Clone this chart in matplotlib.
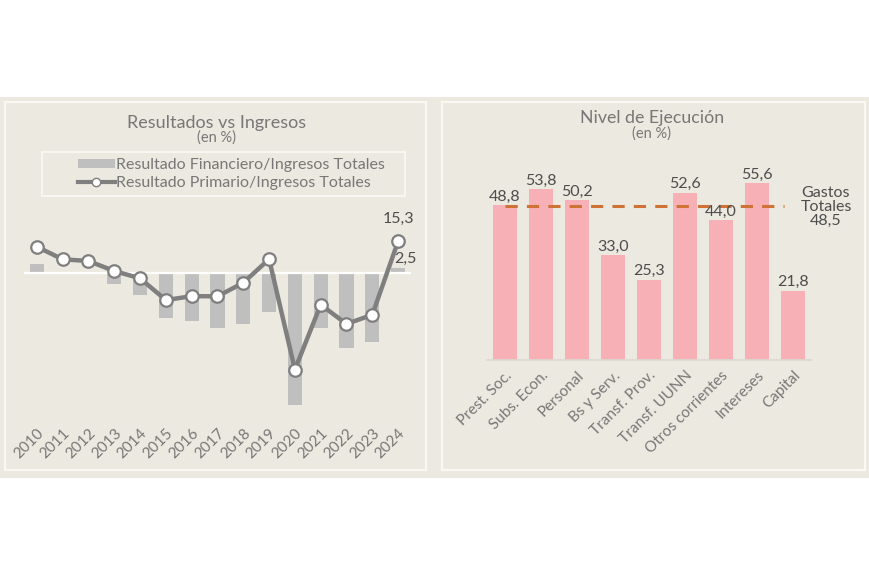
import matplotlib.pyplot as plt
from matplotlib.patches import Rectangle
from matplotlib.lines import Line2D
from matplotlib.patches import Patch

# Datos - panel izquierdo
years = ['2010', '2011', '2012', '2013', '2014', '2015', '2016', '2017',
         '2018', '2019', '2020', '2021', '2022', '2023', '2024']
res_financiero = [4.3, 0, 0, -5.1, -10.5, -21.2, -22.8, -26.0,
                  -24.0, -18.7, -63.0, -26.0, -35.7, -33.0, 2.5]
res_primario = [12.7, 6.7, 5.9, 1.1, -2.4, -12.8, -10.9, -11.0,
                -4.5, 6.8, -46.0, -15.0, -24.2, -19.8, 15.3]

# Datos - panel derecho
categorias = ['Prest. Soc.', 'Subs. Econ.', 'Personal', 'Bs y Serv.', 'Transf. Prov.',
              'Transf. UUNN', 'Otros corrientes', 'Intereses', 'Capital']
ejecucion = [48.8, 53.8, 50.2, 33.0, 25.3, 52.6, 44.0, 55.6, 21.8]
gastos_totales = 48.5

W, H = 870, 580
BEIGE = '#ECE9E0'
GRIS_TXT = '#777777'
OSCURO = '#4d4d4d'

plt.rcParams['font.family'] = ['Lato', 'DejaVu Sans']

fig = plt.figure(figsize=(W / 100, H / 100), dpi=100)
fig.patch.set_facecolor('white')


def fx(px):
    return px / W


def fy(py):
    return 1 - py / H


# fondo beige y marcos de los paneles
fig.patches.append(Rectangle((0, fy(478)), 1, (478 - 97) / H, transform=fig.transFigure,
                             facecolor=BEIGE, edgecolor='none', zorder=-10))
for x0, x1 in [(5, 426), (442, 865)]:
    fig.patches.append(Rectangle((fx(x0), fy(470)), (x1 - x0) / W, (470 - 102) / H,
                                 transform=fig.transFigure, facecolor='none',
                                 edgecolor='#F9F8F3', lw=1.6, zorder=-5))

# ---------- Panel izquierdo ----------
ax1 = fig.add_axes([fx(24), fy(409.3), (411 - 24) / W, (409.3 - 231.5) / H])
ax1.set_facecolor('none')
x = range(len(years))
ax1.bar(x, res_financiero, width=0.55, color='#BFBFBF', zorder=2)
ax1.axhline(0, color='white', lw=1.6, zorder=3)
ax1.plot(x, res_primario, color='#7F7F7F', lw=3.2, marker='o', markersize=9,
         markerfacecolor='white', markeredgecolor='#7F7F7F', markeredgewidth=1.6, zorder=4)
ax1.set_xlim(-0.5, len(years) - 0.5)
ax1.set_ylim(-65, 20)
ax1.set_yticks([])
ax1.set_xticks(list(x))
ax1.set_xticklabels(years, rotation=45, ha='right', rotation_mode='anchor',
                    color=GRIS_TXT, fontsize=11)
ax1.tick_params(axis='x', length=0, pad=12)
for s in ax1.spines.values():
    s.set_visible(False)
ax1.annotate('15,3', (14, res_primario[-1]), xytext=(0, 11), textcoords='offset points',
             ha='center', va='bottom', fontsize=11.5, color=OSCURO)
ax1.annotate('2,5', (14, res_financiero[-1]), xytext=(5, 1.5), textcoords='offset points',
             ha='center', va='bottom', fontsize=11.5, color=OSCURO)

fig.text(fx(217), fy(123), 'Resultados vs Ingresos', ha='center', va='center',
         fontsize=13, color=GRIS_TXT)
fig.text(fx(217), fy(138), '(en %)', ha='center', va='center', fontsize=10.5, color=GRIS_TXT)

# leyenda
fig.patches.append(Rectangle((fx(42), fy(196)), (405 - 42) / W, (196 - 152) / H,
                             transform=fig.transFigure, facecolor='none',
                             edgecolor='#F9F8F3', lw=1.3, zorder=-5))
handles = [Patch(facecolor='#BFBFBF', edgecolor='none'),
           Line2D([0], [0], color='#7F7F7F', lw=3, marker='o', markersize=6,
                  markerfacecolor='white', markeredgecolor='#7F7F7F')]
labels = ['Resultado Financiero/Ingresos Totales', 'Resultado Primario/Ingresos Totales']
fig.legend(handles, labels, loc='center left', bbox_to_anchor=(fx(70), fy(174)),
           frameon=False, fontsize=11.5, labelcolor=GRIS_TXT, handlelength=2.3,
           handleheight=0.55, handletextpad=0.1, labelspacing=0.25, borderpad=0)

# ---------- Panel derecho ----------
ax2 = fig.add_axes([fx(487), fy(360), (811 - 487) / W, (360 - 169.2) / H])
ax2.set_facecolor('none')
xc = range(len(categorias))
ax2.bar(xc, ejecucion, width=0.69, color='#F7B0B5', zorder=2)
ax2.plot([0, 7.75], [gastos_totales, gastos_totales], color='#CF7235', lw=2.2,
         dashes=(4, 3), zorder=3)
for i, v in enumerate(ejecucion):
    ax2.annotate(f'{v:.1f}'.replace('.', ','), (i, v), xytext=(0, 1), textcoords='offset points',
                 ha='center', va='bottom', fontsize=11.5, color=OSCURO, zorder=4)
ax2.set_xlim(-0.5, len(categorias) - 0.5)
ax2.set_ylim(0, 60)
ax2.set_yticks([])
ax2.set_xticks(list(xc))
ax2.set_xticklabels(categorias, rotation=45, ha='right', rotation_mode='anchor',
                    color=GRIS_TXT, fontsize=11)
ax2.tick_params(axis='x', length=0, pad=6)
for k, s in ax2.spines.items():
    s.set_visible(k == 'bottom')
ax2.spines['bottom'].set_color('#DCD9D1')
ax2.spines['bottom'].set_linewidth(1.2)

fig.text(fx(826), fy(207), 'Gastos\nTotales\n' + f'{gastos_totales:.1f}'.replace('.', ','),
         ha='center', va='center', fontsize=11.5, color=OSCURO, linespacing=1.0)
fig.text(fx(652), fy(118), 'Nivel de Ejecución', ha='center', va='center',
         fontsize=12.8, color=GRIS_TXT)
fig.text(fx(652), fy(134), '(en %)', ha='center', va='center', fontsize=10.5, color=GRIS_TXT)

fig.savefig('out.png', dpi=100, facecolor=fig.get_facecolor())
